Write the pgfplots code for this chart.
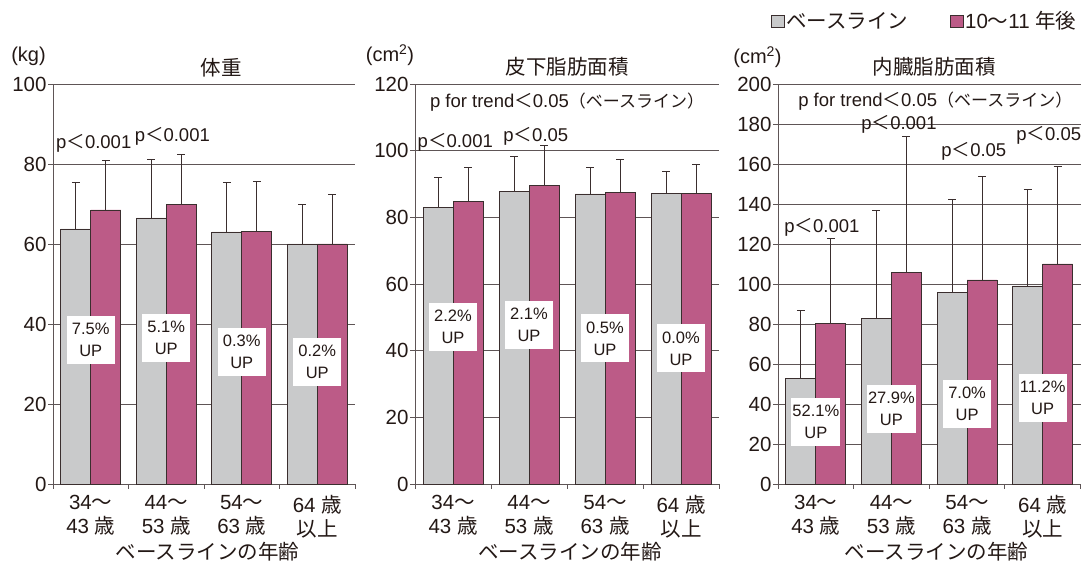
\documentclass[border=0pt]{standalone}
\usepackage{fontspec}
\setmainfont{Liberation Sans}
\newfontfamily\jp{Noto Sans CJK JP}
\usepackage{pgfplots}
\pgfplotsset{compat=1.18}
\usepackage{pgfplotstable}
\definecolor{basec}{HTML}{C9CACB}
\definecolor{afterc}{HTML}{BC5B87}
\definecolor{edge}{HTML}{3A2E2E}
\definecolor{txt}{HTML}{231815}
\definecolor{gridc}{HTML}{5E5556}

% x = group, y = mean, e = SD (upper)
\pgfplotstableread{
x y e
0 63.75 11.6
1 66.5 14.6
2 63.0 12.3
3 60.0 9.8
}\wtBase
\pgfplotstableread{
x y e
0 68.5 12.3
1 69.9 12.4
2 63.2 12.4
3 60.0 12.3
}\wtAfter
\pgfplotstableread{
x y e
0 83.0 9.0
1 87.8 10.4
2 87.0 8.0
3 87.1 6.6
}\sfBase
\pgfplotstableread{
x y e
0 84.8 10.2
1 89.6 12.0
2 87.5 9.9
3 87.1 8.9
}\sfAfter
\pgfplotstableread{
x y e
0 52.8 33.9
1 82.7 54.0
2 95.7 46.8
3 99.0 48.3
}\vfBase
\pgfplotstableread{
x y e
0 80.3 42.5
1 105.8 67.9
2 102.0 51.7
3 110.0 48.7
}\vfAfter

\pgfplotsset{
 panel/.style={
  scale only axis, height=400bp,
  ybar=0pt, bar width=30bp,
  xmin=-0.5, xmax=3.5, ymin=0,
  clip=false,
  axis lines=left,
  axis line style={-, draw=gridc, line width=0.9pt},
  ymajorgrids, grid style={draw=gridc, line width=0.9pt},
  xtick={0,1,2,3},
  xticklabels={{34{\jp ～}\\43 {\jp 歳}},{44{\jp ～}\\53 {\jp 歳}},{54{\jp ～}\\63 {\jp 歳}},{64 {\jp 歳}\\{\jp 以上}}},
  minor xtick={-0.5,0.5,1.5,2.5,3.5},
  tick align=outside,
  major tick length=5bp, minor tick length=5bp,
  tick style={draw=gridc, line width=0.9pt},
  major x tick style={draw=none},
  xticklabel style={align=center, font=\fontsize{20.5bp}{23.5bp}\selectfont, text=txt, yshift=-3bp},
  yticklabel style={font=\fontsize{20.5bp}{20.5bp}\selectfont, text=txt, xshift=2bp},
  /pgf/number format/assume math mode=true,
  every axis plot/.append style={draw=edge, line width=0.8pt},
  error bars/error bar style={draw=edge, line width=0.8pt},
  error bars/error mark options={rotate=90, mark size=4bp, draw=edge, line width=0.8pt},
 },
}
\tikzset{
 upbox/.style={fill=white, draw=none, align=center, minimum width=48bp, minimum height=48bp, inner sep=1bp, text=txt, font=\fontsize{16.5bp}{22bp}\selectfont},
 pval/.style={text=txt, font=\fontsize{18.5bp}{18.5bp}\selectfont, inner sep=0pt},
}

\begin{document}
\begin{tikzpicture}[x=1bp,y=1bp]
\useasboundingbox (0,0) rectangle (1081,565);

% ---------- Panel 1: body weight ----------
\begin{axis}[panel, at={(53bp,81bp)}, anchor=south west, width=302bp,
  ymax=100, ytick={0,20,...,100}]
\addplot[fill=basec, error bars/.cd, y dir=plus, y explicit] table[x=x, y=y, y error=e]{\wtBase};
\addplot[fill=afterc, error bars/.cd, y dir=plus, y explicit] table[x=x, y=y, y error=e]{\wtAfter};
\node[upbox] at (axis cs:0,36) {7.5\%\\UP};
\node[upbox] at (axis cs:1,36.5) {5.1\%\\UP};
\node[upbox] at (axis cs:2,33) {0.3\%\\UP};
\node[upbox] at (axis cs:3,30.5) {0.2\%\\UP};
\node[pval] at (axis cs:0.04,85.2) {p{\jp ＜}0.001};
\node[pval] at (axis cs:1.08,86.8) {p{\jp ＜}0.001};
\end{axis}

% ---------- Panel 2: subcutaneous fat ----------
\begin{axis}[panel, at={(415bp,81bp)}, anchor=south west, width=304bp,
  ymax=120, ytick={0,20,...,120}]
\addplot[fill=basec, error bars/.cd, y dir=plus, y explicit] table[x=x, y=y, y error=e]{\sfBase};
\addplot[fill=afterc, error bars/.cd, y dir=plus, y explicit] table[x=x, y=y, y error=e]{\sfAfter};
\node[upbox] at (axis cs:0,47.2) {2.2\%\\UP};
\node[upbox] at (axis cs:1,47.7) {2.1\%\\UP};
\node[upbox] at (axis cs:2,43.7) {0.5\%\\UP};
\node[upbox] at (axis cs:3,40.7) {0.0\%\\UP};
\node[pval] at (axis cs:1.5,114.7) {p for trend{\jp ＜}0.05{\jp\fontsize{17bp}{17bp}\selectfont（ベースライン）}};
\node[pval] at (axis cs:0.03,102.4) {p{\jp ＜}0.001};
\node[pval] at (axis cs:1.09,104.2) {p{\jp ＜}0.05};
\end{axis}

% ---------- Panel 3: visceral fat ----------
\begin{axis}[panel, at={(778bp,81bp)}, anchor=south west, width=302.5bp,
  ymax=200, ytick={0,20,...,200},
  legend style={at={(0.992,1.1575)}, anchor=east, draw=none, fill=none,
    legend columns=2, font=\fontsize{20.5bp}{20.5bp}\selectfont, text=txt,
    inner sep=0pt, nodes={inner sep=1.5bp},
    /tikz/every even column/.append style={column sep=40bp}},
  legend image code/.code={\draw[#1, line width=0.8pt] (0bp,-6bp) rectangle (13bp,6bp);}]
\addplot[fill=basec, error bars/.cd, y dir=plus, y explicit] table[x=x, y=y, y error=e]{\vfBase};
\addplot[fill=afterc, error bars/.cd, y dir=plus, y explicit] table[x=x, y=y, y error=e]{\vfAfter};
\legend{{\jp ベースライン},10{\jp ～}11 {\jp 年後}}
\node[upbox] at (axis cs:0,31.2) {52.1\%\\UP};
\node[upbox] at (axis cs:1,37.7) {27.9\%\\UP};
\node[upbox] at (axis cs:2,40.2) {7.0\%\\UP};
\node[upbox] at (axis cs:3,43.2) {11.2\%\\UP};
\node[pval] at (axis cs:1.58,191.2) {p for trend{\jp ＜}0.05{\jp\fontsize{17bp}{17bp}\selectfont（ベースライン）}};
\node[pval] at (axis cs:0.08,128.2) {p{\jp ＜}0.001};
\node[pval] at (axis cs:1.1,180) {p{\jp ＜}0.001};
\node[pval] at (axis cs:2.09,166.2) {p{\jp ＜}0.05};
\node[pval] at (axis cs:3.08,174.5) {p{\jp ＜}0.05};
\end{axis}

% ---------- titles, units, x labels ----------
\begin{scope}[every node/.style={text=txt}]
\node[font=\jp\fontsize{20.5bp}{20.5bp}\selectfont] at (221,497) {体重};
\node[font=\jp\fontsize{20.5bp}{20.5bp}\selectfont] at (567,498) {皮下脂肪面積};
\node[font=\jp\fontsize{20.5bp}{20.5bp}\selectfont] at (934,498) {内臓脂肪面積};
\node[font=\fontsize{20bp}{20bp}\selectfont] at (28.5,509) {(kg)};
\node[font=\fontsize{20bp}{20bp}\selectfont] at (390,510) {(cm\textsuperscript{2})};
\node[font=\fontsize{20bp}{20bp}\selectfont] at (757.5,508) {(cm\textsuperscript{2})};
\node[font=\jp\fontsize{20.5bp}{20.5bp}\selectfont] at (207.5,13.3) {ベースラインの年齢};
\node[font=\jp\fontsize{20.5bp}{20.5bp}\selectfont] at (570,13.3) {ベースラインの年齢};
\node[font=\jp\fontsize{20.5bp}{20.5bp}\selectfont] at (936.5,13.3) {ベースラインの年齢};
\end{scope}
\end{tikzpicture}
\end{document}
